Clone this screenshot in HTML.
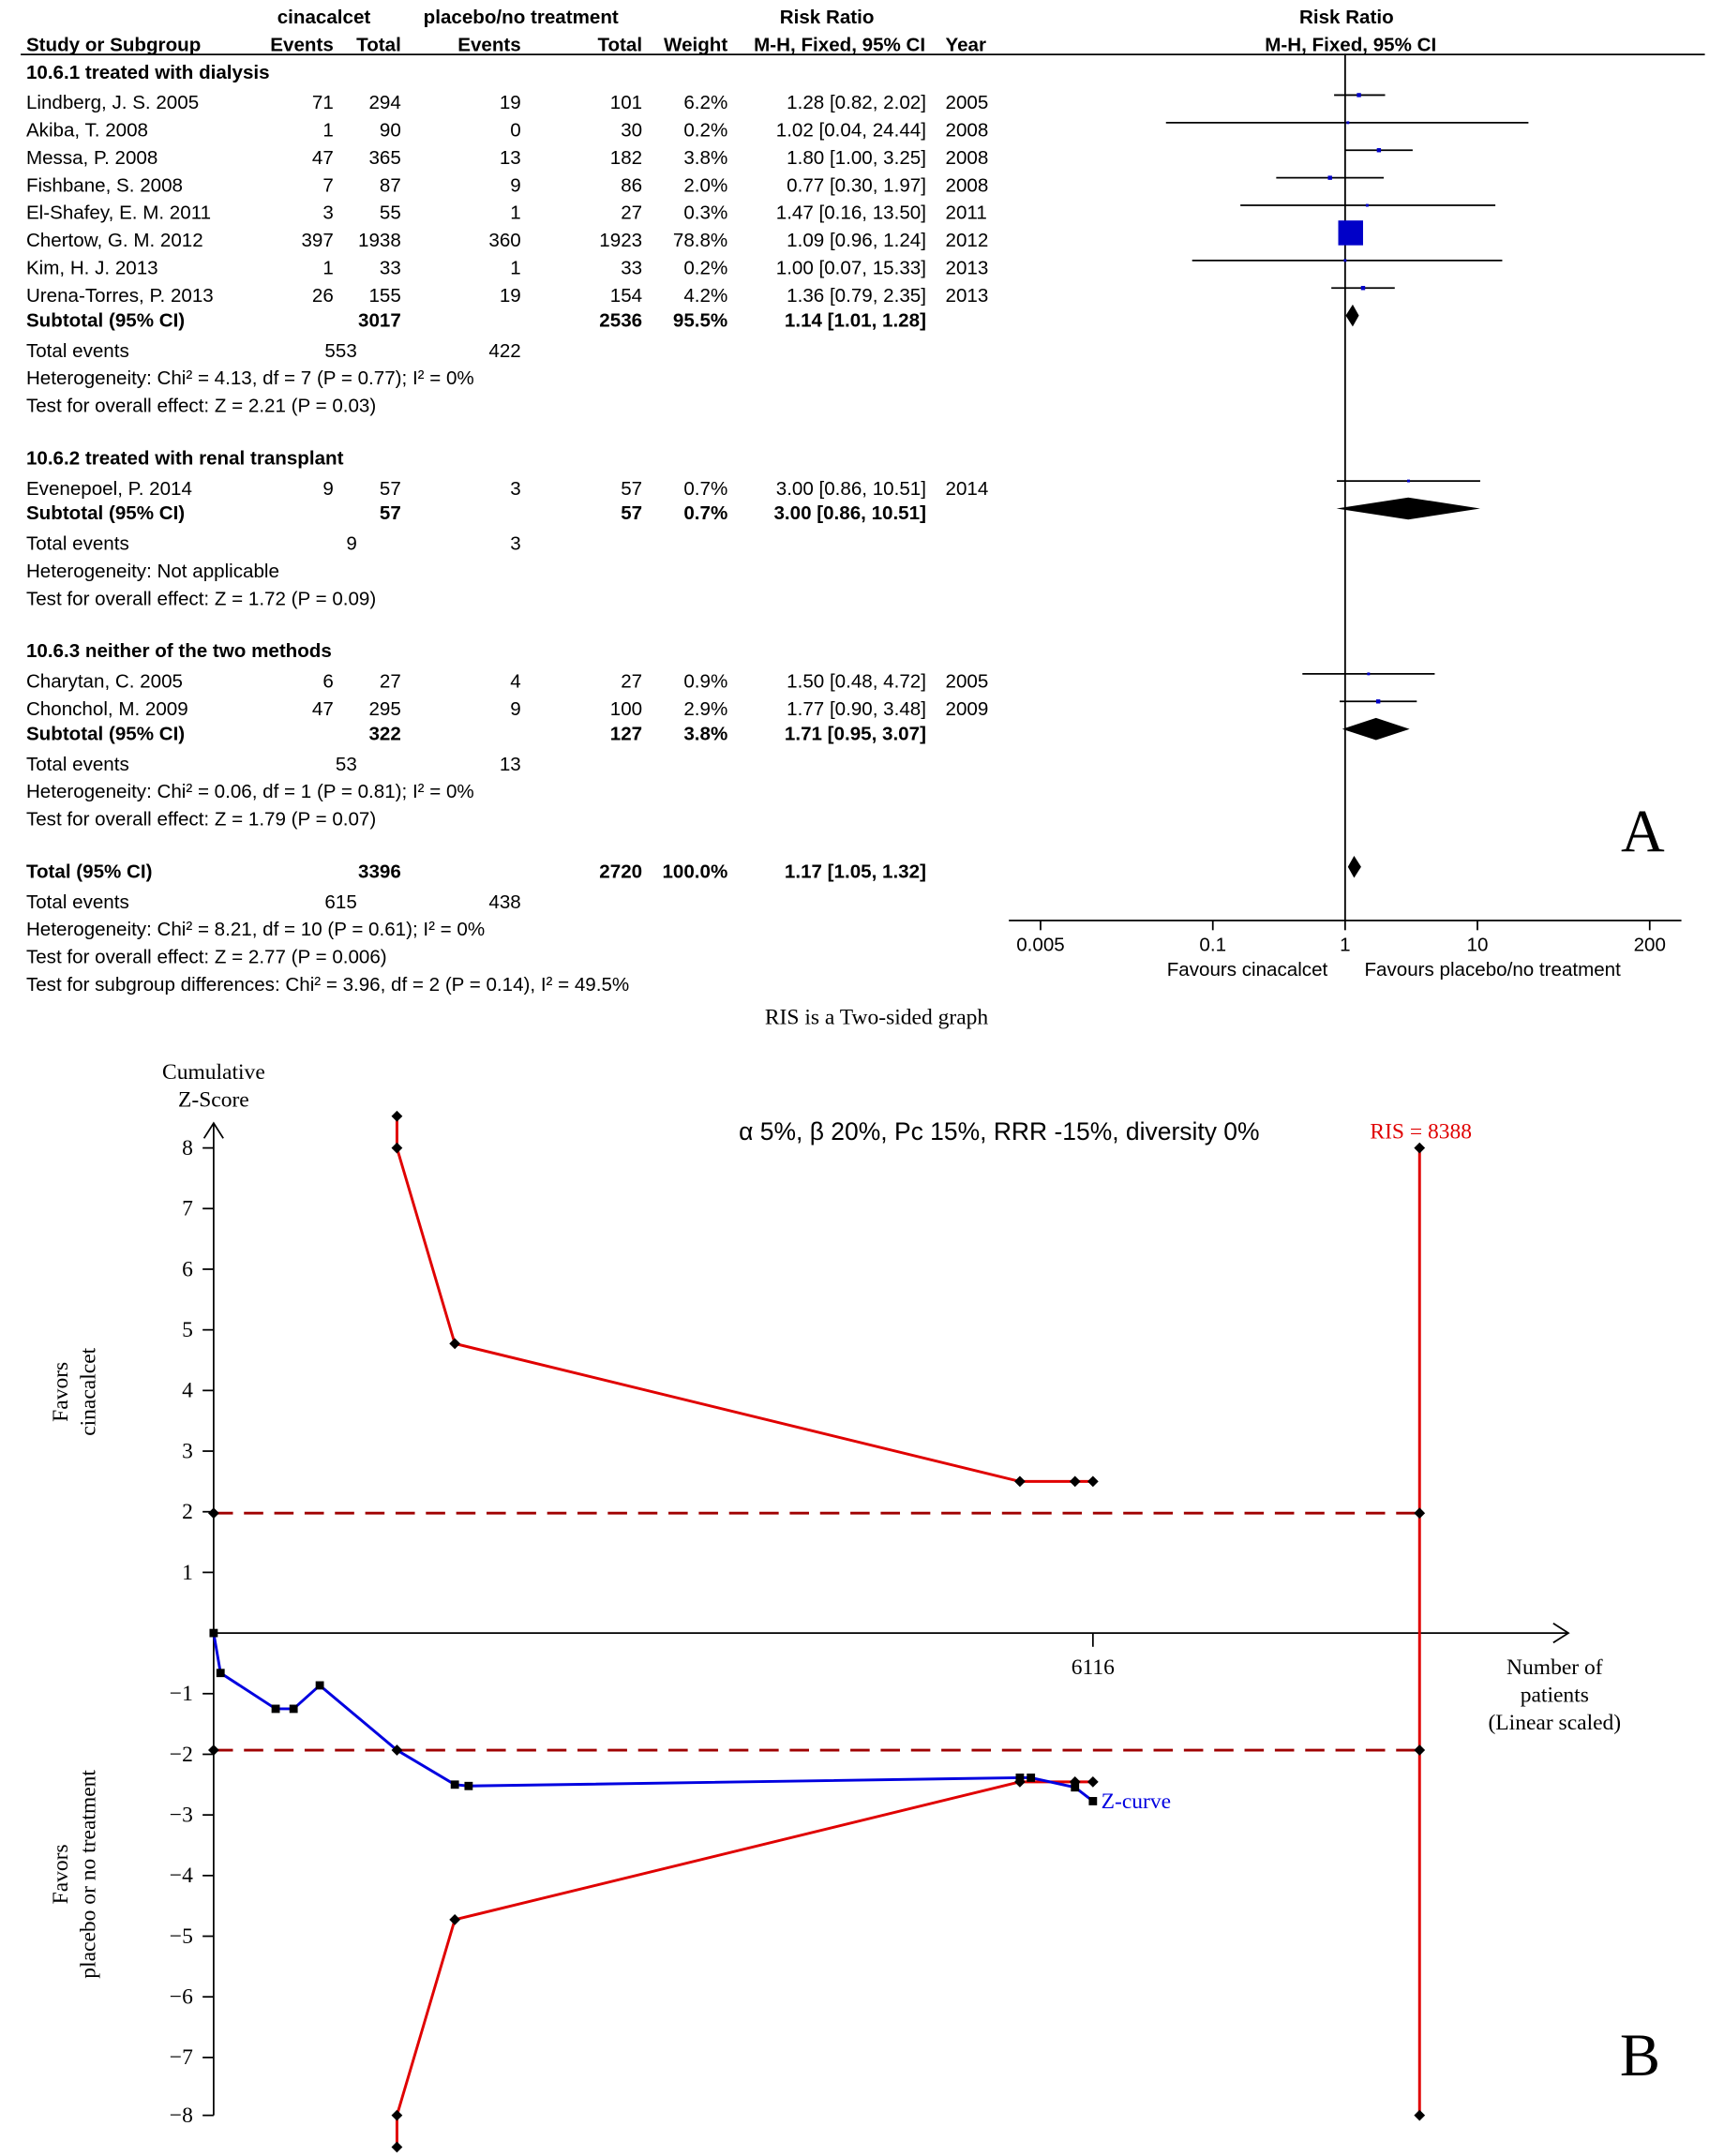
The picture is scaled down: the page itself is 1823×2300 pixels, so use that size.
<!DOCTYPE html>
<html><head><meta charset="utf-8"><style>
html,body{margin:0;padding:0;background:#fff}
svg{display:block}
.s{font-family:"Liberation Sans",sans-serif;font-size:14px;fill:#000}
.b{font-weight:bold}
.r{text-anchor:end}
.m{text-anchor:middle}
.sf{font-family:"Liberation Serif",serif;font-size:16px;fill:#000}
</style></head><body>
<svg width="1823" height="2300" viewBox="0 0 1240 1564.5" xmlns="http://www.w3.org/2000/svg">
<rect width="1240" height="1565" fill="#fff"/>
<g class="s b">
<text x="235" y="17" class="s b m">cinacalcet</text>
<text x="378" y="17" class="s b m">placebo/no treatment</text>
<text x="600" y="17" class="s b m">Risk Ratio</text>
<text x="977" y="17" class="s b m">Risk Ratio</text>
<text x="19" y="37" class="s b">Study or Subgroup</text>
<text x="242" y="37" class="s b r">Events</text>
<text x="291" y="37" class="s b r">Total</text>
<text x="378" y="37" class="s b r">Events</text>
<text x="466" y="37" class="s b r">Total</text>
<text x="528" y="37" class="s b r">Weight</text>
<text x="547" y="37" class="s b">M-H, Fixed, 95% CI</text>
<text x="686" y="37" class="s b">Year</text>
<text x="980" y="37" class="s b m">M-H, Fixed, 95% CI</text>
</g>
<line x1="15" y1="39.5" x2="1237" y2="39.5" stroke="#000" stroke-width="1.2"/>

<g class="s">
<text x="19" y="57" class="s b">10.6.1 treated with dialysis</text>
<text x="19" y="79">Lindberg, J. S. 2005</text><text x="242" y="79" class="r">71</text><text x="291" y="79" class="r">294</text><text x="378" y="79" class="r">19</text><text x="466" y="79" class="r">101</text><text x="528" y="79" class="r">6.2%</text><text x="672" y="79" class="r">1.28 [0.82, 2.02]</text><text x="686" y="79">2005</text>
<text x="19" y="99">Akiba, T. 2008</text><text x="242" y="99" class="r">1</text><text x="291" y="99" class="r">90</text><text x="378" y="99" class="r">0</text><text x="466" y="99" class="r">30</text><text x="528" y="99" class="r">0.2%</text><text x="672" y="99" class="r">1.02 [0.04, 24.44]</text><text x="686" y="99">2008</text>
<text x="19" y="119">Messa, P. 2008</text><text x="242" y="119" class="r">47</text><text x="291" y="119" class="r">365</text><text x="378" y="119" class="r">13</text><text x="466" y="119" class="r">182</text><text x="528" y="119" class="r">3.8%</text><text x="672" y="119" class="r">1.80 [1.00, 3.25]</text><text x="686" y="119">2008</text>
<text x="19" y="139">Fishbane, S. 2008</text><text x="242" y="139" class="r">7</text><text x="291" y="139" class="r">87</text><text x="378" y="139" class="r">9</text><text x="466" y="139" class="r">86</text><text x="528" y="139" class="r">2.0%</text><text x="672" y="139" class="r">0.77 [0.30, 1.97]</text><text x="686" y="139">2008</text>
<text x="19" y="159">El-Shafey, E. M. 2011</text><text x="242" y="159" class="r">3</text><text x="291" y="159" class="r">55</text><text x="378" y="159" class="r">1</text><text x="466" y="159" class="r">27</text><text x="528" y="159" class="r">0.3%</text><text x="672" y="159" class="r">1.47 [0.16, 13.50]</text><text x="686" y="159">2011</text>
<text x="19" y="179">Chertow, G. M. 2012</text><text x="242" y="179" class="r">397</text><text x="291" y="179" class="r">1938</text><text x="378" y="179" class="r">360</text><text x="466" y="179" class="r">1923</text><text x="528" y="179" class="r">78.8%</text><text x="672" y="179" class="r">1.09 [0.96, 1.24]</text><text x="686" y="179">2012</text>
<text x="19" y="199">Kim, H. J. 2013</text><text x="242" y="199" class="r">1</text><text x="291" y="199" class="r">33</text><text x="378" y="199" class="r">1</text><text x="466" y="199" class="r">33</text><text x="528" y="199" class="r">0.2%</text><text x="672" y="199" class="r">1.00 [0.07, 15.33]</text><text x="686" y="199">2013</text>
<text x="19" y="219">Urena-Torres, P. 2013</text><text x="242" y="219" class="r">26</text><text x="291" y="219" class="r">155</text><text x="378" y="219" class="r">19</text><text x="466" y="219" class="r">154</text><text x="528" y="219" class="r">4.2%</text><text x="672" y="219" class="r">1.36 [0.79, 2.35]</text><text x="686" y="219">2013</text>
<text x="19" y="237" class="s b">Subtotal (95% CI)</text><text x="291" y="237" class="s b r">3017</text><text x="466" y="237" class="s b r">2536</text><text x="528" y="237" class="s b r">95.5%</text><text x="672" y="237" class="s b r">1.14 [1.01, 1.28]</text>
<text x="19" y="259">Total events</text><text x="259" y="259" class="r">553</text><text x="378" y="259" class="r">422</text>
<text x="19" y="279">Heterogeneity: Chi² = 4.13, df = 7 (P = 0.77); I² = 0%</text>
<text x="19" y="299">Test for overall effect: Z = 2.21 (P = 0.03)</text>

<text x="19" y="337" class="s b">10.6.2 treated with renal transplant</text>
<text x="19" y="359">Evenepoel, P. 2014</text><text x="242" y="359" class="r">9</text><text x="291" y="359" class="r">57</text><text x="378" y="359" class="r">3</text><text x="466" y="359" class="r">57</text><text x="528" y="359" class="r">0.7%</text><text x="672" y="359" class="r">3.00 [0.86, 10.51]</text><text x="686" y="359">2014</text>
<text x="19" y="377" class="s b">Subtotal (95% CI)</text><text x="291" y="377" class="s b r">57</text><text x="466" y="377" class="s b r">57</text><text x="528" y="377" class="s b r">0.7%</text><text x="672" y="377" class="s b r">3.00 [0.86, 10.51]</text>
<text x="19" y="399">Total events</text><text x="259" y="399" class="r">9</text><text x="378" y="399" class="r">3</text>
<text x="19" y="419">Heterogeneity: Not applicable</text>
<text x="19" y="439">Test for overall effect: Z = 1.72 (P = 0.09)</text>

<text x="19" y="477" class="s b">10.6.3 neither of the two methods</text>
<text x="19" y="499">Charytan, C. 2005</text><text x="242" y="499" class="r">6</text><text x="291" y="499" class="r">27</text><text x="378" y="499" class="r">4</text><text x="466" y="499" class="r">27</text><text x="528" y="499" class="r">0.9%</text><text x="672" y="499" class="r">1.50 [0.48, 4.72]</text><text x="686" y="499">2005</text>
<text x="19" y="519">Chonchol, M. 2009</text><text x="242" y="519" class="r">47</text><text x="291" y="519" class="r">295</text><text x="378" y="519" class="r">9</text><text x="466" y="519" class="r">100</text><text x="528" y="519" class="r">2.9%</text><text x="672" y="519" class="r">1.77 [0.90, 3.48]</text><text x="686" y="519">2009</text>
<text x="19" y="537" class="s b">Subtotal (95% CI)</text><text x="291" y="537" class="s b r">322</text><text x="466" y="537" class="s b r">127</text><text x="528" y="537" class="s b r">3.8%</text><text x="672" y="537" class="s b r">1.71 [0.95, 3.07]</text>
<text x="19" y="559">Total events</text><text x="259" y="559" class="r">53</text><text x="378" y="559" class="r">13</text>
<text x="19" y="579">Heterogeneity: Chi² = 0.06, df = 1 (P = 0.81); I² = 0%</text>
<text x="19" y="599">Test for overall effect: Z = 1.79 (P = 0.07)</text>

<text x="19" y="637" class="s b">Total (95% CI)</text><text x="291" y="637" class="s b r">3396</text><text x="466" y="637" class="s b r">2720</text><text x="528" y="637" class="s b r">100.0%</text><text x="672" y="637" class="s b r">1.17 [1.05, 1.32]</text>
<text x="19" y="659">Total events</text><text x="259" y="659" class="r">615</text><text x="378" y="659" class="r">438</text>
<text x="19" y="679">Heterogeneity: Chi² = 8.21, df = 10 (P = 0.61); I² = 0%</text>
<text x="19" y="699">Test for overall effect: Z = 2.77 (P = 0.006)</text>
<text x="19" y="719">Test for subgroup differences: Chi² = 3.96, df = 2 (P = 0.14), I² = 49.5%</text>
</g>

<g stroke="#000" stroke-width="1.2">
<line x1="976" y1="39" x2="976" y2="668"/>
<line x1="732" y1="668" x2="1220" y2="668"/>
<line x1="755" y1="668" x2="755" y2="675"/>
<line x1="880" y1="668" x2="880" y2="675"/>
<line x1="976" y1="668" x2="976" y2="675"/>
<line x1="1072" y1="668" x2="1072" y2="675"/>
<line x1="1197" y1="668" x2="1197" y2="675"/>
<line x1="968" y1="69" x2="1005" y2="69"/>
<line x1="846" y1="89" x2="1109" y2="89"/>
<line x1="976" y1="109" x2="1025" y2="109"/>
<line x1="926" y1="129" x2="1004" y2="129"/>
<line x1="900" y1="149" x2="1085" y2="149"/>
<line x1="974" y1="169" x2="985" y2="169"/>
<line x1="865" y1="189" x2="1090" y2="189"/>
<line x1="966" y1="209" x2="1012" y2="209"/>
<line x1="970" y1="349" x2="1074" y2="349"/>
<line x1="945" y1="489" x2="1041" y2="489"/>
<line x1="972" y1="509" x2="1028" y2="509"/>
</g>
<g fill="#0000c8">
<rect x="984.5" y="67.5" width="3" height="3"/>
<rect x="977" y="88" width="2" height="2"/>
<rect x="999" y="107.5" width="3" height="3"/>
<rect x="963.5" y="127.5" width="3" height="3"/>
<rect x="991" y="148" width="2" height="2"/>
<rect x="971" y="160" width="18" height="18"/>
<rect x="975" y="188" width="2" height="2"/>
<rect x="987.5" y="207.5" width="3" height="3"/>
<rect x="1021" y="348" width="2" height="2"/>
<rect x="992" y="488" width="2" height="2"/>
<rect x="998.5" y="507.5" width="3" height="3"/>
</g>
<g fill="#000">
<polygon points="976.4,229 981.5,221 986,229 981.5,237"/>
<polygon points="969.7,369 1021.8,361 1074,369 1021.8,377"/>
<polygon points="973.9,529 998.4,521 1022.8,529 998.4,537"/>
<polygon points="978,629 982.5,621 987.6,629 982.5,637"/>
</g>
<g class="s">
<text x="755" y="690" class="s m">0.005</text>
<text x="880" y="690" class="s m">0.1</text>
<text x="976" y="690" class="s m">1</text>
<text x="1072" y="690" class="s m">10</text>
<text x="1197" y="690" class="s m">200</text>
<text x="905" y="708" class="s m">Favours cinacalcet</text>
<text x="1083" y="708" class="s m">Favours placebo/no treatment</text>
</g>
<text x="1192" y="618" class="sf m" style="font-size:44px">A</text>

<text x="636" y="743" class="sf m">RIS is a Two-sided graph</text>
<text x="155" y="783" class="sf m">Cumulative</text>
<text x="155" y="803" class="sf m">Z-Score</text>
<text x="725" y="827" class="s m" style="font-size:18px">α 5%, β 20%, Pc 15%, RRR -15%, diversity 0%</text>
<text x="1031" y="826" class="sf m" style="fill:#e00000">RIS = 8388</text>
<text x="1128" y="1215" class="sf m">Number of</text>
<text x="1128" y="1235" class="sf m">patients</text>
<text x="1128" y="1255" class="sf m">(Linear scaled)</text>
<text x="793" y="1215" class="sf m">6116</text>
<text transform="translate(49,1010) rotate(-90)" class="sf m">Favors</text>
<text transform="translate(69,1010) rotate(-90)" class="sf m">cinacalcet</text>
<text transform="translate(49,1360) rotate(-90)" class="sf m">Favors</text>
<text transform="translate(69,1360) rotate(-90)" class="sf m">placebo or no treatment</text>
<text x="1190" y="1506" class="sf m" style="font-size:44px">B</text>

<g stroke="#000" stroke-width="1.2" fill="none">
<line x1="155" y1="815" x2="155" y2="1535"/>
<polyline points="148,826 155,815 162,826"/>
<line x1="155" y1="1185" x2="1138" y2="1185"/>
<polyline points="1127,1178 1138,1185 1127,1192"/>
<line x1="793" y1="1185" x2="793" y2="1195"/>
</g>
<g stroke="#000" stroke-width="1.2">
<line x1="147" y1="833" x2="155" y2="833"/><line x1="147" y1="877" x2="155" y2="877"/><line x1="147" y1="921" x2="155" y2="921"/><line x1="147" y1="965" x2="155" y2="965"/><line x1="147" y1="1009" x2="155" y2="1009"/><line x1="147" y1="1053" x2="155" y2="1053"/><line x1="147" y1="1097" x2="155" y2="1097"/><line x1="147" y1="1141" x2="155" y2="1141"/>
<line x1="147" y1="1229" x2="155" y2="1229"/><line x1="147" y1="1273" x2="155" y2="1273"/><line x1="147" y1="1317" x2="155" y2="1317"/><line x1="147" y1="1361" x2="155" y2="1361"/><line x1="147" y1="1405" x2="155" y2="1405"/><line x1="147" y1="1449" x2="155" y2="1449"/><line x1="147" y1="1493" x2="155" y2="1493"/><line x1="147" y1="1535" x2="155" y2="1535"/>
</g>
<g>
<text x="140" y="838" class="sf r">8</text><text x="140" y="882" class="sf r">7</text><text x="140" y="926" class="sf r">6</text><text x="140" y="970" class="sf r">5</text><text x="140" y="1014" class="sf r">4</text><text x="140" y="1058" class="sf r">3</text><text x="140" y="1102" class="sf r">2</text><text x="140" y="1146" class="sf r">1</text>
<text x="140" y="1234" class="sf r">−1</text><text x="140" y="1278" class="sf r">−2</text><text x="140" y="1322" class="sf r">−3</text><text x="140" y="1366" class="sf r">−4</text><text x="140" y="1410" class="sf r">−5</text><text x="140" y="1454" class="sf r">−6</text><text x="140" y="1498" class="sf r">−7</text><text x="140" y="1540" class="sf r">−8</text>
</g>

<g stroke="#a00000" stroke-width="2" stroke-dasharray="14,8">
<line x1="155" y1="1098" x2="1030" y2="1098"/>
<line x1="155" y1="1270" x2="1030" y2="1270"/>
</g>
<g stroke="#e00000" stroke-width="2" fill="none">
<polyline points="288,810 288,833 330,975 740,1075 780,1075 793,1075"/>
<polyline points="288,1558 288,1535 330,1393 740,1293 780,1293 793,1293"/>
<line x1="1030" y1="833" x2="1030" y2="1535"/>
</g>
<g stroke="#0000e0" stroke-width="2" fill="none">
<polyline points="155,1185 160,1214 200,1240 213,1240 232,1223 288,1270 330,1295 340,1296 740,1290 748,1290 780,1297 793,1307"/>
</g>
<g fill="#000">
<rect x="152" y="1182" width="6" height="6"/><rect x="157" y="1211" width="6" height="6"/><rect x="197" y="1237" width="6" height="6"/><rect x="210" y="1237" width="6" height="6"/><rect x="229" y="1220" width="6" height="6"/><rect x="327" y="1292" width="6" height="6"/><rect x="337" y="1293" width="6" height="6"/><rect x="737" y="1287" width="6" height="6"/><rect x="745" y="1287" width="6" height="6"/><rect x="777" y="1294" width="6" height="6"/><rect x="790" y="1304" width="6" height="6"/>
</g>
<g fill="#000">
<path d="M288,806l4,4l-4,4l-4,-4z"/><path d="M288,829l4,4l-4,4l-4,-4z"/><path d="M330,971l4,4l-4,4l-4,-4z"/><path d="M740,1071l4,4l-4,4l-4,-4z"/><path d="M780,1071l4,4l-4,4l-4,-4z"/><path d="M793,1071l4,4l-4,4l-4,-4z"/>
<path d="M288,1554l4,4l-4,4l-4,-4z"/><path d="M288,1531l4,4l-4,4l-4,-4z"/><path d="M330,1389l4,4l-4,4l-4,-4z"/><path d="M740,1289l4,4l-4,4l-4,-4z"/><path d="M780,1289l4,4l-4,4l-4,-4z"/><path d="M793,1289l4,4l-4,4l-4,-4z"/>
<path d="M1030,829l4,4l-4,4l-4,-4z"/><path d="M1030,1531l4,4l-4,4l-4,-4z"/><path d="M1030,1094l4,4l-4,4l-4,-4z"/><path d="M1030,1266l4,4l-4,4l-4,-4z"/>
<path d="M155,1094l4,4l-4,4l-4,-4z"/><path d="M155,1266l4,4l-4,4l-4,-4z"/><path d="M288,1266l4,4l-4,4l-4,-4z"/>
</g>
<text x="799" y="1312" class="sf" style="fill:#0000e0">Z-curve</text>
</svg>
</body></html>
